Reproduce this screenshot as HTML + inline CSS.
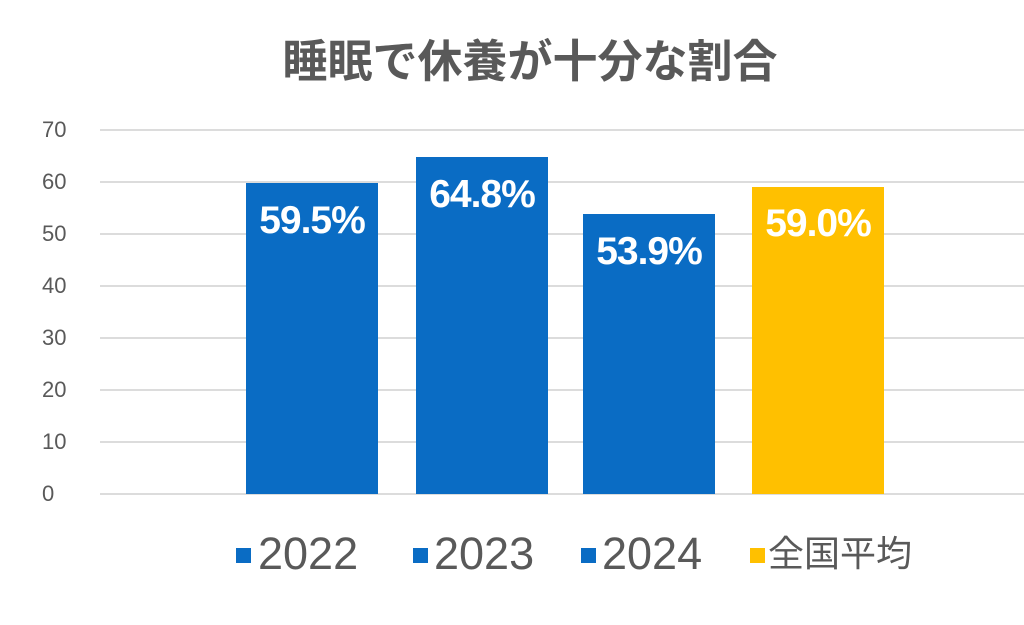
<!DOCTYPE html>
<html><head><meta charset="utf-8"><style>
body{margin:0;width:1024px;height:625px;background:#fff;overflow:hidden;position:relative;font-family:"Liberation Sans","Noto Sans CJK JP",sans-serif}
.t{position:absolute;white-space:nowrap}
.g{position:absolute;left:100px;right:0;height:2px;background:#dcdcdc}
.y{position:absolute;left:42px;width:40px;font-size:22px;color:#595959;line-height:24px}
.b{position:absolute;width:132px;bottom:131px}
.l{position:absolute;width:132px;text-align:center;color:#fff;font-weight:bold;font-size:39px;letter-spacing:-1px}
.sq{position:absolute;width:15px;height:15px;top:548px}
.lt{position:absolute;top:530px;font-size:45px;line-height:48px;color:#595959;white-space:nowrap}
</style></head><body>
<div class="t" style="left:0;width:1060px;text-align:center;top:34px;font-size:45px;line-height:56px;color:#595959;font-weight:bold;-webkit-text-stroke:0px">睡眠で休養が十分な割合</div>
<div class="g" style="top:129px"></div><div class="y" style="top:118px">70</div>
<div class="g" style="top:181px"></div><div class="y" style="top:170px">60</div>
<div class="g" style="top:233px"></div><div class="y" style="top:222px">50</div>
<div class="g" style="top:285px"></div><div class="y" style="top:274px">40</div>
<div class="g" style="top:337px"></div><div class="y" style="top:326px">30</div>
<div class="g" style="top:389px"></div><div class="y" style="top:378px">20</div>
<div class="g" style="top:441px"></div><div class="y" style="top:430px">10</div>
<div class="g" style="top:493px"></div><div class="y" style="top:482px">0</div>
<div class="b" style="left:246px;top:183px;background:#0a6cc4"></div>
<div class="b" style="left:416px;top:157px;background:#0a6cc4"></div>
<div class="b" style="left:583px;top:214px;background:#0a6cc4"></div>
<div class="b" style="left:752px;top:187px;background:#ffc000"></div>
<div class="l" style="left:246px;top:199px">59.5%</div>
<div class="l" style="left:416px;top:173px">64.8%</div>
<div class="l" style="left:583px;top:230px">53.9%</div>
<div class="l" style="left:752px;top:202px">59.0%</div>
<div class="sq" style="left:236px;background:#0a6cc4"></div><div class="lt" style="left:258px">2022</div>
<div class="sq" style="left:413px;background:#0a6cc4"></div><div class="lt" style="left:434px">2023</div>
<div class="sq" style="left:581px;background:#0a6cc4"></div><div class="lt" style="left:602px">2024</div>
<div class="sq" style="left:750px;background:#ffc000"></div><div class="lt" style="left:768px;font-size:36px">全国平均</div>
</body></html>
